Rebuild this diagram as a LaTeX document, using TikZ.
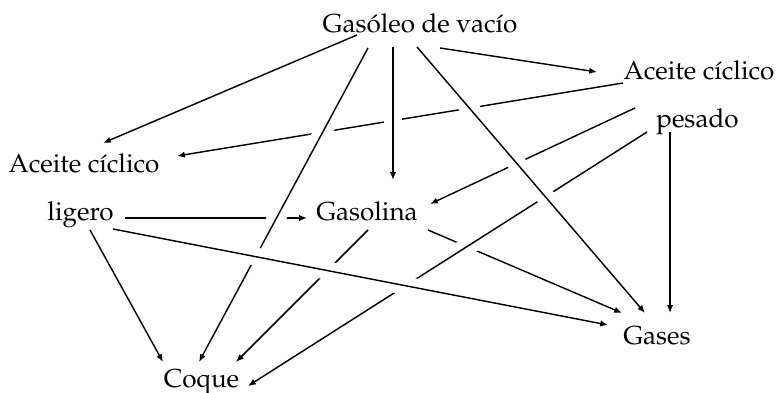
\documentclass[tikz,border=0pt]{standalone}
\usepackage[T1]{fontenc}
\usepackage{mathpazo}
\usetikzlibrary{arrows.meta}

\begin{document}
\begin{tikzpicture}[x=0.0135cm, y=-0.0135cm,
  term/.style={inner sep=0pt, anchor=base},
  flow/.style={-{Latex[length=3pt,width=2.4pt]}, line width=0.55pt,
    preaction={draw=white, line width=7pt, arrows=-, shorten <=5pt, shorten >=5pt}}]

\useasboundingbox (0,0) rectangle (776,393);

\node[term] (gas) at (420,33) {Gas\'oleo de vac\'{\i}o};
\node[term] (acR) at (699,80) {Aceite c\'{\i}clico};
\node[term] (pes) at (697.5,128) {pesado};
\node[term] (acL) at (84,173) {Aceite c\'{\i}clico};
\node[term] (lig) at (80.5,221) {ligero};
\node[term] (gsl) at (367,221) {Gasolina};
\node[term] (gss) at (657,345) {Gases};
\node[term] (coq) at (201.5,388) {Coque};

% lines that get cut first
\draw[flow] ([shift={(44.5,-3)}]lig.base) -- ([shift={(-60,-3)}]gsl.base);
\draw[flow] ([shift={(-76,3)}]acR.base) -- ([shift={(93,-17)}]acL.base);
\draw[flow] ([shift={(-62.5,-20)}]pes.base) -- ([shift={(63,-17)}]gsl.base);
\draw[flow] ([shift={(61,9)}]gsl.base) -- ([shift={(-35,-32)}]gss.base);
\draw[flow] ([shift={(-50.5,4)}]pes.base) -- ([shift={(46.5,-2)}]coq.base);
\draw[flow] ([shift={(1,9)}]gsl.base) -- ([shift={(34.5,-26)}]coq.base);

% no crossings
\draw[flow] ([shift={(-63,2)}]gas.base) -- ([shift={(19,-30)}]acL.base);
\draw[flow] ([shift={(20,15)}]gas.base) -- ([shift={(-102,-8)}]acR.base);
\draw[flow] ([shift={(-27.5,4)}]pes.base) -- ([shift={(13,-32)}]gss.base);
\draw[flow] ([shift={(9.5,9)}]lig.base) -- ([shift={(-38.5,-26)}]coq.base);

% lines drawn over the others
\draw[flow] ([shift={(-27,14)}]gas.base) -- ([shift={(26,-41)}]gsl.base);
\draw[flow] ([shift={(-3,14)}]gas.base) -- ([shift={(-12,-32)}]gss.base);
\draw[flow] ([shift={(-52,15)}]gas.base) -- ([shift={(-2.5,-26)}]coq.base);
\draw[flow] ([shift={(32.5,8)}]lig.base) -- ([shift={(-49,-20)}]gss.base);
\end{tikzpicture}
\end{document}
